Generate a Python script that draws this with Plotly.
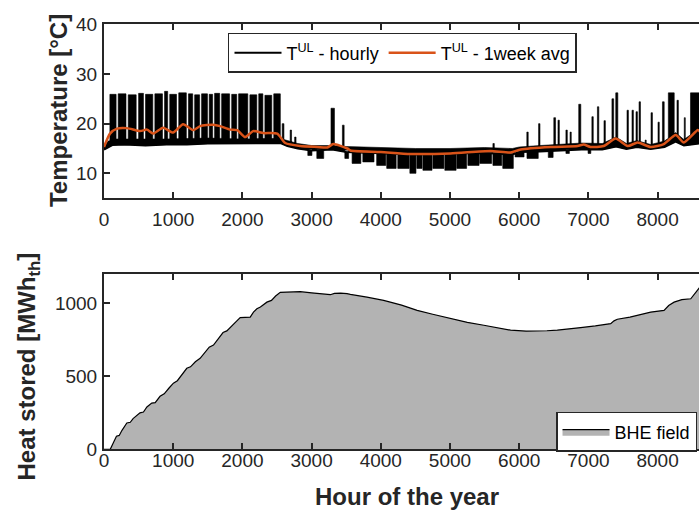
import plotly.graph_objects as go

# ---------------- data ----------------
# Top panel: hourly temperature T^UL, described by its daily band envelope
band_hours = [0, 60, 120, 300, 600, 900, 1200, 1500, 1800, 2000, 2300, 2550, 2650, 2800,
              3000, 3300, 3500, 4000, 4500, 5000, 5500, 5900, 6000, 6300, 6600, 6900,
              7200, 7400, 7550, 7700, 7900, 8100, 8260, 8380, 8600]
band_upper = [15.4, 16.5, 16.9, 16.9, 16.8, 16.9, 17.0, 17.1, 17.0, 16.9, 17.0, 17.0, 16.6, 16.0,
              15.6, 15.6, 15.4, 15.2, 15.0, 15.0, 15.2, 15.0, 15.3, 15.6, 15.9, 16.1,
              16.0, 17.3, 16.0, 16.6, 15.8, 16.5, 18.2, 16.8, 19.0]
band_lower = [14.8, 15.3, 15.7, 15.8, 15.6, 15.8, 15.8, 16.0, 16.0, 16.1, 16.1, 16.1, 15.5, 15.0,
              14.6, 14.8, 14.3, 14.0, 13.8, 14.0, 14.1, 13.8, 14.3, 14.4, 14.6, 14.8,
              14.8, 15.4, 14.9, 15.3, 14.9, 15.3, 16.4, 15.6, 16.0]

# upward excursions of the hourly temperature: start hour, end hour, peak, base
spike_start = [85, 205, 350, 500, 600, 735, 875, 950, 1080, 1220, 1310, 1410, 1520, 1598, 1700,
               1845, 1945, 2108, 2236, 2325, 2453,
               2575, 2690, 2755, 3280, 3445, 5620,
               6110, 6280, 6500, 6560, 6675, 6735, 6860, 7050, 7130, 7225, 7340, 7395,
               7558, 7630, 7688, 7732, 7820, 7905, 8006, 8070, 8155, 8280, 8385, 8475]
spike_end = [175, 318, 465, 570, 705, 845, 920, 1048, 1190, 1282, 1382, 1495, 1570, 1672, 1815,
             1918, 2078, 2208, 2296, 2424, 2548,
             2600, 2710, 2775, 3330, 3470, 5640,
             6130, 6300, 6525, 6580, 6695, 6752, 6890, 7070, 7150, 7245, 7365, 7425,
             7578, 7650, 7708, 7752, 7835, 7925, 8024, 8095, 8240, 8300, 8400, 8620]
spike_peak = [25.9, 26.0, 25.8, 26.1, 25.9, 26.0, 26.5, 25.9, 26.2, 26.0, 25.8, 26.0, 25.9, 26.1,
              26.0, 25.9, 26.0, 25.8, 26.0, 25.7, 26.0,
              20.0, 18.7, 17.3, 23.1, 19.7, 16.0,
              18.3, 20.0, 21.2, 20.7, 18.7, 18.3, 23.9, 21.4, 23.4, 20.6, 25.0, 26.2,
              22.7, 22.7, 22.4, 24.4, 16.7, 22.2, 20.3, 24.4, 26.2, 24.7, 21.2, 26.2]
spike_base = [16.5] * 21 + [16.3, 16.0, 15.8, 15.3, 15.2, 14.8,
              15.0, 15.2, 15.4, 15.4, 15.5, 15.5, 15.7, 15.7, 15.7, 15.7, 16.0, 16.5,
              15.6, 15.8, 16.0, 16.0, 15.5, 15.5, 15.7, 15.8, 16.2, 16.8, 16.2, 16.5]

# downward excursions (summer): start hour, end hour, minimum, top
dip_start = [2945, 3075, 3480, 3585, 3740, 3940, 4085, 4245, 4420, 4520, 4608, 4752, 4925,
             5098, 5258, 5430, 5620, 5762, 5940, 6112, 6420, 6675, 6995]
dip_end = [3005, 3175, 3535, 3712, 3902, 4072, 4222, 4410, 4508, 4596, 4740, 4912, 5088,
           5240, 5420, 5602, 5748, 5915, 6070, 6275, 6490, 6725, 7035]
dip_low = [13.6, 13.0, 13.0, 12.0, 12.3, 11.6, 11.0, 11.0, 10.0, 11.0, 10.6, 11.0, 10.6,
           11.0, 11.6, 12.0, 11.6, 11.0, 13.3, 13.0, 13.2, 14.0, 14.0]
dip_top = [14.8, 14.8, 14.6, 14.5, 14.4, 14.3, 14.2, 14.0, 14.0, 14.0, 14.0, 14.0, 14.0,
           14.1, 14.1, 14.2, 14.2, 14.0, 14.4, 14.5, 14.6, 14.8, 14.9]

# 1-week moving average
avg_hours = [0, 87, 188, 333, 521, 622, 709, 854, 998, 1143, 1288, 1389, 1577, 1679, 1823,
             1925, 2040, 2156, 2301, 2503, 2619, 2836, 3082, 3227, 3314, 3516, 3560, 4000,
             4428, 5007, 5585, 5875, 6020, 6454, 6844, 6931, 7032, 7220, 7394, 7568, 7712,
             7900, 8089, 8262, 8378, 8581, 8610]
avg_temp = [15.3, 18.0, 19.0, 19.1, 18.5, 18.8, 18.0, 19.2, 18.2, 19.9, 18.7, 19.5, 19.8, 19.5,
            18.8, 18.7, 17.3, 18.5, 18.1, 18.0, 16.1, 15.5, 15.3, 15.2, 15.9, 15.0, 14.6, 14.3,
            13.9, 14.0, 14.5, 14.2, 14.8, 15.3, 15.5, 15.8, 15.3, 15.5, 17.0, 15.5, 16.2,
            15.3, 15.9, 17.7, 16.2, 18.7, 18.4]

# Bottom panel: heat stored in the BHE field [MWh_th]
heat_hours = [0, 90, 130, 180, 220, 260, 330, 380, 420, 520, 570, 620, 690, 740, 810, 870,
              940, 1003, 1060, 1120, 1196, 1250, 1320, 1389, 1450, 1520, 1582, 1650, 1720,
              1775, 1850, 1920, 1968, 2113, 2160, 2209, 2260, 2354, 2420, 2480, 2547, 2700,
              2836, 3000, 3150, 3270, 3330, 3420, 3512, 3560, 3800, 4041, 4300, 4525, 4750,
              5007, 5250, 5489, 5700, 5875, 6100, 6261, 6400, 6551, 6700, 6888, 7100, 7322,
              7370, 7418, 7600, 7756, 7900, 8093, 8160, 8238, 8350, 8479, 8540, 8610]
heat_mwh = [0, 0, 40, 90, 95, 130, 180, 185, 210, 250, 255, 290, 317, 320, 363, 380,
            420, 453, 470, 510, 555, 565, 600, 623, 660, 700, 714, 760, 800,
            811, 850, 880, 902, 906, 940, 963, 975, 1008, 1020, 1050, 1075, 1078,
            1080, 1072, 1065, 1059, 1068, 1070, 1066, 1061, 1042, 1020, 988, 952, 925,
            895, 870, 850, 830, 816, 810, 809, 812, 816, 822, 834, 845, 861,
            880, 891, 905, 925, 940, 952, 985, 1008, 1025, 1031, 1070, 1111]

x_ticks = [0, 1000, 2000, 3000, 4000, 5000, 6000, 7000, 8000]
t_ticks = [10, 20, 30, 40]
h_ticks = [0, 500, 1000]

# ---------------- build the hourly "ink" polygons ----------------
px, py = [], []
px += band_hours + band_hours[::-1] + [None]
py += band_upper + band_lower[::-1] + [None]
for s, e, p, b in zip(spike_start, spike_end, spike_peak, spike_base):
    px += [s, s, e, e, None]
    py += [b, p, p, b, None]
for s, e, lo, tp in zip(dip_start, dip_end, dip_low, dip_top):
    px += [s, s, e, e, None]
    py += [tp, lo, lo, tp, None]

FONT = "Liberation Sans, Arial, Helvetica, sans-serif"
AX = "#262626"
ORANGE = "#D95319"

fig = go.Figure()
fig.add_trace(go.Scatter(x=px, y=py, mode="lines", fill="toself", fillcolor="black",
                         line=dict(color="black", width=0.6), showlegend=False,
                         hoverinfo="skip", xaxis="x", yaxis="y"))
fig.add_trace(go.Scatter(x=band_hours, y=band_lower, mode="lines",
                         line=dict(color="black", width=2),
                         name="T<sup>UL</sup> - hourly", xaxis="x", yaxis="y",
                         legend="legend"))
fig.add_trace(go.Scatter(x=avg_hours, y=avg_temp, mode="lines",
                         line=dict(color=ORANGE, width=2.5, shape="spline", smoothing=0.6),
                         name="T<sup>UL</sup> - 1week avg", xaxis="x", yaxis="y",
                         legend="legend"))
fig.add_trace(go.Scatter(x=heat_hours, y=heat_mwh, mode="lines", fill="tozeroy",
                         fillcolor="#B3B3B3", line=dict(color="black", width=1.2),
                         name="BHE field", xaxis="x2", yaxis="y2", legend="legend2"))

XR = [0, 8598]
common_x = dict(range=XR, showline=True, linecolor=AX, linewidth=2, mirror="ticks",
                ticks="inside", ticklen=6, tickwidth=2, tickcolor=AX,
                tickvals=x_ticks, tickfont=dict(family=FONT, size=19, color=AX),
                showgrid=False, zeroline=False, automargin=False, domain=[0, 1])
common_y = dict(showline=True, linecolor=AX, linewidth=2, mirror=False,
                ticks="inside", ticklen=6, tickwidth=2, tickcolor=AX,
                tickfont=dict(family=FONT, size=19, color=AX),
                showgrid=False, zeroline=False, automargin=False)

fig.update_layout(
    width=699, height=510, template="none",
    margin=dict(l=104, r=0, t=0, b=0),
    paper_bgcolor="white", plot_bgcolor="white",
    font=dict(family=FONT, color=AX),
    xaxis=dict(common_x, anchor="y", ticklabelstandoff=3),
    yaxis=dict(common_y, anchor="x", domain=[0.6114, 0.9524], range=[5, 40],
               tickvals=t_ticks, ticklabelstandoff=1),
    xaxis2=dict(common_x, anchor="y2", ticklabelstandoff=-7),
    yaxis2=dict(common_y, anchor="x2", domain=[0.1190, 0.4625], range=[0, 1200],
                tickvals=h_ticks, ticklabelstandoff=1),
    legend=dict(orientation="h", x=0.2084, y=0.9353, xanchor="left", yanchor="top",
                bgcolor="white", bordercolor=AX, borderwidth=1.5,
                font=dict(family=FONT, size=18, color="black"), itemwidth=47),
    legend2=dict(x=0.7597, y=0.1922, xanchor="left", yanchor="top",
                 bgcolor="white", bordercolor=AX, borderwidth=1.5,
                 font=dict(family=FONT, size=18, color="black"), itemwidth=47),
    annotations=[
        dict(text="<b>Temperature [°C]</b>", xref="paper", yref="paper",
             x=-0.0773, y=(510 - 111) / 510, xanchor="center", yanchor="middle",
             textangle=-90, showarrow=False, font=dict(family=FONT, size=24, color=AX)),
        dict(text="<b>Heat stored [MWh<sub>th</sub>]</b>", xref="paper", yref="paper",
             x=-0.1277, y=(510 - 366.5) / 510, xanchor="center", yanchor="middle",
             textangle=-90, showarrow=False, font=dict(family=FONT, size=24, color=AX)),
        dict(text="<b>Hour of the year</b>", xref="paper", yref="paper",
             x=0.5092, y=0.0255, xanchor="center", yanchor="middle",
             showarrow=False, font=dict(family=FONT, size=24, color=AX)),
    ],
)

fig.write_html("out.html")
